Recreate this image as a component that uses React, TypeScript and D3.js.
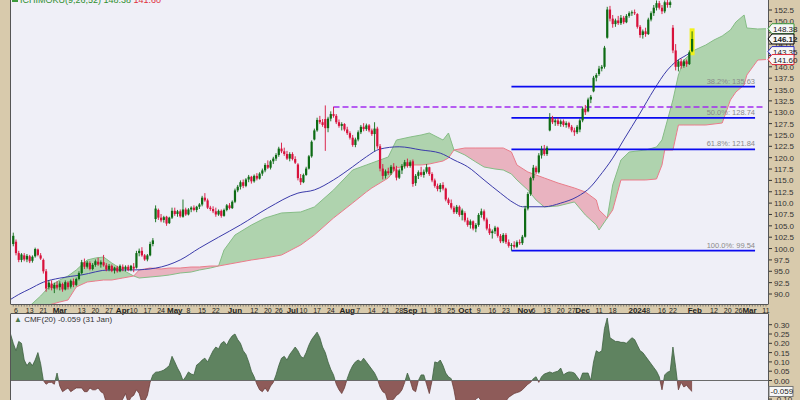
import React from "react";
import * as d3 from "d3";

// ---------- calendar ----------
const holidays = ["2023-02-20","2023-04-07","2023-05-29","2023-06-19","2023-07-04","2023-09-04","2023-11-23","2023-12-25","2024-01-01","2024-01-15","2024-02-19"];
const calendarStart = "2023-02-03";
const calendarEnd = "2024-03-11";

// ---------- candles [open, high, low, close] ----------
const feb23 = [[101,103.5,100.5,102.8],[101.5,102,98.5,99],[99,99.5,97,97.5],[97.5,99,97,98.7],[98.5,99,97.2,97.6],[97.6,98.8,97,98.4],[98.3,98.6,96.8,97.2],[97.3,98.5,96.9,98.2],[98.3,100.2,98,99.9],[99.8,100,98.3,98.6],[98.5,99,97.5,97.8],[97.5,97.8,94.5,95],[95,95.5,90.5,91.2],[91.5,93,91,92.5],[92.3,93,90.8,91.3],[91.2,92.5,90.2,92],[92,92.8,91,91.4]];
const mar23 = [[91.5,92.8,90.8,92.3],[92.2,92.5,90.5,91],[91,93,90.8,92.6],[92.5,92.8,91,91.5],[91.6,93.2,91.2,92.9],[92.8,93.4,91.5,92],[92,93.6,91.7,93.3],[93.3,95,93,94.6],[94.6,97.5,94.3,97],[97,97.8,95.5,96],[96,97.3,95.6,96.9],[96.8,97.2,95.2,95.5],[95.5,96.8,95.2,96.4],[96.4,97.6,96,97.2],[97.1,98,96.2,96.5],[96.5,97.4,95.8,97],[97,98.6,96,96.3],[96.3,96.8,95,95.4],[95.4,96.6,95,96.2],[96.2,96.5,94.8,95.1],[95.2,96,94.5,95.8],[95.8,96.2,94.7,95],[95,96.5,94.8,96.2]];
const apr23 = [[96,96.5,95,95.4],[95.5,96.3,95,96],[96,96.4,95,95.3],[95.3,96.4,95,96.2],[96,96.8,94.8,95.6],[95.8,99.5,95.6,99],[99,100,98.3,99.5],[99.5,100.3,98.2,98.5],[98.5,98.8,97.3,97.6],[97.6,98.8,97.2,98.5],[98.5,101.5,98.3,101],[101,102.3,100.5,101.8],[106.5,109.5,105.8,108.8],[108.5,108.8,106.3,106.8],[106.8,107.6,105.8,106.2],[106.3,107.2,105.7,106.9],[107,107.2,105,105.5],[105.6,107,105.4,106.8],[106.8,109,106.5,108.3]];
const may23 = [[108.3,109,107.2,107.6],[107.6,108.5,107,108.2],[108.2,108.6,106.8,107.1],[107,110.8,106.8,108.6],[108.6,109,107.2,107.5],[107.5,108.9,107.3,108.6],[108.6,109.3,108,109],[109,109.5,108.2,108.5],[108.5,109.4,108,109.2],[109.2,110,108.7,109.7],[109.7,111.6,109.3,111.2],[111.2,112.2,110.3,110.6],[110.6,111,108.7,109],[109,109.4,108.3,108.7],[108.7,109.3,107.8,108.2],[108.2,109,107,107.5],[107.5,108.6,107.2,108.3],[108.3,108.6,106.8,107.2],[107.2,108.8,107,108.5],[108.5,109.8,108.2,109.5],[109.5,110,108.6,108.9],[108.9,110.6,108.7,110.3]];
const jun23 = [[110.3,113.2,110,112.8],[112.8,114,112.4,113.6],[113.6,115,113,114.6],[114.6,115.2,113.3,113.8],[113.8,115.5,113.5,115.2],[115.2,116.2,114.6,115.8],[115.8,116,114.3,114.8],[114.8,116.3,114.5,116],[116,116.6,115,115.4],[115.4,116.8,115.2,116.5],[116.5,117.6,116,117.2],[117.2,118.8,116.8,118.4],[118.4,119.4,117.5,117.8],[117.8,119.5,117.4,119.2],[119.2,120.2,118.6,119.8],[119.8,121,119.3,120.6],[120.6,122.4,120.2,122],[122,123.3,121,121.4],[121.4,122.2,120.4,120.8],[120.8,121.5,119.5,119.8],[119.8,121.2,119.2,120.8]];
const jul23 = [[120.8,121.2,119.4,119.7],[119.7,120.3,118.6,118.9],[118.5,118.8,115,115.5],[115.5,116.4,114,114.6],[114.6,116.5,114.4,116.2],[116.2,118,116,117.6],[117.6,120.6,117.4,120.3],[120.3,123.8,120,123.5],[124,126.4,123.8,126],[126,128.8,125.7,128.3],[128.3,129.2,127.4,127.8],[127.8,128.5,126.8,127.2],[128.5,131.5,121.5,126.5],[126.5,129,125.6,128.6],[128.6,130.2,128,129.6],[129.6,131.2,128.8,129.2],[129.2,129.6,127.4,127.8],[127.8,128.4,126.6,127],[127,127.8,126,127.4],[127.4,127.6,125.8,126.2]];
const aug23 = [[126.2,126.8,125,125.4],[125.4,125.8,124,124.4],[124.4,125,122.4,122.8],[122.8,124.4,122.3,124],[124,126,123.6,125.6],[125.6,127.2,125.2,126.8],[126.8,127.6,125.8,126.3],[126.3,127.5,125.9,127.1],[127.1,127.4,125.6,126],[126,126.4,124.8,125.2],[125.2,127.8,121.5,126.4],[126.4,126.8,122,122.5],[122.5,123,117,117.6],[117.6,118.6,115.2,116],[116,117.4,115.4,117],[117,117.8,116.2,116.6],[116.6,118.4,116.2,118],[118,118.8,117,117.4],[117.4,118.2,115,115.6],[115.6,117.6,115.3,117.2],[117.2,118.6,116.4,118.2],[118.2,119.5,117.6,119],[119,119.8,117.8,118.2]];
const sep23 = [[118.2,119.4,117.8,119],[119.2,119.6,113.6,114.2],[114.4,116.4,113.8,116],[116,117.2,115.3,116.8],[116.8,118,115.8,116.2],[116.2,117.4,115.6,116.9],[116.9,118.6,116.5,117.9],[117.9,118,116,116.4],[116.4,116.8,114.6,115],[115,115.4,113.4,113.8],[113.8,114.3,112.6,113.1],[113.1,114.4,112.4,114],[114,114.6,112.8,113.2],[113.2,113.4,110.4,110.8],[110.8,111.2,109.6,110],[110,110.8,108.6,109],[109,109.4,107.6,108],[108,109.6,107.6,109.2],[109.2,109.5,107,107.4],[107.4,108.8,106.2,108.4]];
const oct23 = [[107.8,108.2,105.8,106.2],[106.2,106.8,104.8,105.2],[105.2,106.4,104.4,106],[106,106.2,104,104.4],[104.4,105.6,103.6,105.2],[105.2,107.8,104.8,107.4],[107.4,108.8,106.8,108.2],[108.2,108.6,106,106.4],[106.4,106.8,104,104.4],[104.4,105.4,103,103.4],[103.4,104.2,102.2,103.8],[103.8,105,103.2,104.6],[104.6,104.8,102.4,102.8],[102.8,103.2,101.2,101.6],[101.6,103.4,101.2,103],[103,103.4,101,101.4],[101.4,102,100.2,100.6],[100.6,101.2,99.54,100.8],[100.8,101.6,100,100.4],[100.4,101.8,100.1,101.4],[101.4,102,100.8,101.2],[101.2,103,100.8,102.6]];
const nov23 = [[102.6,109.4,102.4,108.8],[108.8,112.4,108.4,112],[112,115.8,111.6,115.5],[115.5,118.4,115,117.8],[117.8,118.2,116.4,116.8],[116.8,121,116.5,120.5],[120.5,122.6,119.8,121.8],[121.8,122.8,120.4,120.8],[120.8,122.6,120.4,122.2],[126,129.8,125.8,128.8],[128.8,129.2,127.4,127.8],[127.8,128.6,127,128.2],[128.2,128.8,127,127.4],[127.4,128.4,126.8,128],[128,128.4,126.8,127.2],[127.2,128,126.6,127.6],[127.6,127.9,126.4,126.8],[126.8,127.2,125.6,126],[126,126.6,124.8,125.6],[125.6,127.2,125.2,126.8],[126.2,128.6,125.6,128.2]];
const dec23 = [[128.2,131.2,127.8,130.8],[130.8,131.6,129.4,130],[130.2,133.2,130,132.8],[132.8,133.8,132,133.4],[134.6,138,134.4,137.6],[137.6,138.6,136.8,138.2],[138.4,140.2,138,139.6],[139.6,140.4,139,140],[140,144.6,139.6,144.2],[146.4,153.2,146.2,152.6],[152.6,153.4,150,150.6],[150.6,151.4,148.6,149.4],[149.4,150.6,148.8,150.2],[150.2,151.2,149.2,149.6],[149.6,151.4,149.2,150.8],[150.8,151.2,149.4,149.8],[149.8,151.6,149.6,151.2],[151.2,152.2,150.8,151.8],[151.8,152.4,151.2,152],[152,152.6,151.4,151.8]];
const jan24 = [[151.6,151.8,148.4,148.8],[148.8,149.2,146.4,147],[147,148.2,146.2,147.8],[147.8,148.6,146.6,147.2],[147.2,150.8,147,150.4],[150.4,152.2,150,151.8],[151.8,153.6,151.2,153],[153,154.6,152.4,154],[154,154.5,152.6,153],[153,153.6,151.6,152.2],[152.2,154.6,151.8,154.2],[154.2,154.8,153,153.6],[153.6,154.6,153,154.2],[148.6,149.2,143,143.6],[143.6,145,139.2,140],[140,141.6,139,141.2],[141.2,141.8,139.6,140.2],[140.2,141.6,139.8,141.2],[141.2,141.6,140,140.6],[140.6,143.6,140.4,143.2],[143.4,147.8,143.2,146.12]];

// ---------- Ichimoku cloud (trading-day index, span A, span B) ----------
const cloudDays = [6,10,13,17,20,23,27,30,33,36,40,44,46,50,54,57,61,65,68,72,75,77,81,87,92,98,105,110,117,124,129,131,137,140,145,149,152,157,159,161,165,169,172,176,179,182,184,188,191,194,199,205,209,213,214,217,219,222,225,231,235,237,238,241,243,245,249,253,256,259,262,264,267,268,272,275];
const spanA = [87.36,89.56,91.54,93.08,93.96,95.28,97.48,97.92,98.14,96.82,95.28,93.96,93.52,93.74,93.96,94.18,94.62,94.84,95.28,95.72,96.16,99.68,102.98,105.18,106.72,107.83,108.05,109.15,112.89,117.29,118.39,118.83,120.15,123.89,124.55,124.99,125.43,123.89,125.43,121.69,120.59,119.05,117.95,117.51,117.29,116.41,115.09,112.89,110.69,109.15,109.37,110.26,107.39,105.18,104.08,106.72,114.0,119.49,121.25,121.69,122.35,123.89,126.09,132.69,138.19,141.49,143.7,144.8,145.9,146.78,148.1,149.86,151.4,148.54,148.32,148.38];
const spanB = [86.48,86.92,87.58,88.24,88.68,91.54,92.64,92.86,93.08,93.08,93.52,93.96,95.28,95.72,95.5,95.72,95.72,95.94,95.94,96.16,96.16,96.38,96.82,97.48,97.92,98.58,100.78,102.98,106.72,110.03,112.45,113.33,115.53,117.73,118.39,118.39,118.61,119.27,119.93,121.69,122.13,122.13,122.13,122.13,122.13,121.25,118.39,116.85,116.19,115.53,114.43,113.33,112.45,110.69,108.49,106.72,108.49,115.09,115.09,115.09,115.31,118.39,121.69,121.69,127.19,127.19,127.19,127.19,127.41,127.63,132.69,134.45,135.99,138.19,141.49,141.6];

// ---------- moving average ----------
const maDays = [-1,2,6,11,17,25,35,44,52,61,68,75,83,93,104,110,117,124,129,134,141,149,156,161,166,172,178,183,186,194,200,206,211,214,219,223,229,234,239,242,246,248];
const maValues = [88.8,89.9,91.1,92.6,93.5,94.2,95.3,95.3,95.7,97.5,100.1,102.5,105.2,108.9,112.2,112.9,115.1,118.0,120.2,121.9,122.4,121.7,121.0,119.5,118.0,115.1,112.2,110.0,109.2,109.2,110.0,111.4,113.6,115.8,119.9,123.9,129.8,134.9,139.3,141.1,142.6,143.35];

// ---------- CMF(20), one value per trading day from index -1 ----------
const cmfFirstDay = -1;
const cmfValues = [0.25,0.20,0.16,0.21,0.20,0.11,0.08,0.10,0.08,0.11,0.15,0.09,0.00,-0.02,-0.01,-0.01,-0.02,0.04,-0.03,-0.06,-0.05,-0.04,-0.06,-0.05,-0.04,-0.04,-0.04,-0.06,-0.06,-0.04,-0.05,-0.05,-0.04,-0.06,-0.07,-0.12,-0.13,-0.13,-0.13,-0.12,-0.12,-0.10,-0.07,-0.12,-0.09,-0.08,-0.05,-0.07,-0.12,-0.11,-0.08,-0.01,0.03,0.045,0.046,0.05,0.056,0.067,0.08,0.13,0.10,0.067,0.04,0.0,0.02,0.046,0.035,0.03,0.083,0.094,
0.11,0.12,0.10,0.13,0.16,0.18,0.17,0.20,0.21,0.19,0.22,0.24,0.25,0.22,0.20,0.16,0.14,0.10,0.05,0.02,-0.02,-0.05,-0.06,-0.04,-0.06,-0.03,-0.01,0.03,0.08,0.12,0.13,0.11,0.14,0.16,0.18,0.16,0.13,0.12,0.15,0.19,0.22,0.24,0.26,0.23,0.18,0.15,0.10,0.06,0.03,-0.02,-0.05,-0.07,-0.04,0.01,0.05,0.08,0.10,0.11,0.10,0.12,0.10,0.08,0.06,0.04,0.01,
-0.035,-0.06,-0.07,-0.12,-0.11,-0.10,-0.08,-0.07,-0.05,-0.01,0.04,0.0,-0.05,-0.06,0.0,0.03,0.03,-0.02,-0.07,0.0,0.10,0.095,0.11,0.08,0.04,0.02,0.01,-0.05,-0.13,-0.14,-0.15,-0.14,-0.13,-0.14,-0.12,-0.10,-0.09,-0.11,-0.13,-0.14,-0.15,-0.14,-0.13,-0.12,-0.13,-0.12,-0.11,-0.09,-0.08,-0.07,-0.065,-0.06,-0.05,-0.035,-0.02,-0.01,0.01,0.02,-0.01,0.02,0.035,0.04,0.046,0.04,0.046,0.05,0.067,0.03,0.04,0.046,0.045,0.04,0.02,0.0,0.04,0.04,0.04,0.0,0.10,0.16,0.15,0.16,0.28,0.336,0.23,0.22,0.21,0.21,0.205,0.205,0.20,0.215,0.23,0.22,0.19,0.16,0.15,0.13,0.11,0.09,0.07,0.05,0.02,-0.05,0.03,0.045,0.05,0.18,0.07,-0.05,-0.01,-0.035,-0.025,-0.045,-0.059];

// ---------- overlays ----------
const fibPercents = ["38.2%", "50.0%", "61.8%", "100.0%"];
const fibValues = [135.63, 128.74, 121.84, 99.54];
const fibStart = "2023-10-25";
const fibEnd = "2024-03-05";
const resistanceValue = 131.15;
const resistanceStart = "2023-07-25";
const resistanceEnd = "2024-03-08";

// ---------- axes ----------
const priceTicks = [90, 92.5, 95, 97.5, 100, 102.5, 105, 107.5, 110, 112.5, 115, 117.5, 120, 122.5, 125, 127.5, 130, 132.5, 135, 137.5, 140, 142.5, 145, 147.5, 150, 152.5];
const cmfTicks = [0.3, 0.25, 0.2, 0.15, 0.1, 0.05, 0, -0.1];
const dateLabels: [string, string, boolean][] = [
  ["2023-02-06","6",false],["2023-02-13","13",false],["2023-02-21","21",false],["2023-03-01","Mar",true],["2023-03-13","13",false],["2023-03-20","20",false],["2023-03-27","27",false],
  ["2023-04-03","Apr",true],["2023-04-10","10",false],["2023-04-17","17",false],["2023-04-24","24",false],["2023-05-01","May",true],["2023-05-08","8",false],["2023-05-15","15",false],["2023-05-22","22",false],
  ["2023-06-01","Jun",true],["2023-06-12","12",false],["2023-06-20","20",false],["2023-06-26","26",false],["2023-07-03","Jul",true],["2023-07-10","10",false],["2023-07-17","17",false],["2023-07-24","24",false],
  ["2023-08-01","Aug",true],["2023-08-07","7",false],["2023-08-14","14",false],["2023-08-21","21",false],["2023-08-28","28",false],["2023-09-01","Sep",true],["2023-09-11","11",false],["2023-09-18","18",false],["2023-09-25","25",false],
  ["2023-10-02","Oct",true],["2023-10-09","9",false],["2023-10-16","16",false],["2023-10-23","23",false],["2023-11-01","Nov",true],["2023-11-06","6",false],["2023-11-13","13",false],["2023-11-20","20",false],["2023-11-27","27",false],
  ["2023-12-01","Dec",true],["2023-12-11","11",false],["2023-12-18","18",false],["2024-01-02","2024",true],["2024-01-08","8",false],["2024-01-16","16",false],["2024-01-22","22",false],
  ["2024-02-01","Feb",true],["2024-02-12","12",false],["2024-02-20","20",false],["2024-02-26","26",false],["2024-03-01","Mar",true],["2024-03-11","11",false]];
const tagValues = [148.38, 146.12, 143.35, 141.6];
const tagColors = ["#3c9a3c", "#000000", "#3030c0", "#e03040"];

// ---------- component ----------
const W = 800, H = 400;
const PL = 11, PR = 768, PT = 0, PB = 304;
const CT = 314, CB = 400;
const FONT = "'Liberation Sans', Arial, sans-serif";

export default function App() {
  const parse = d3.timeParse("%Y-%m-%d");
  const fmt = d3.timeFormat("%Y-%m-%d");
  const days = d3.timeDay
    .range(parse(calendarStart)!, d3.timeDay.offset(parse(calendarEnd)!, 1))
    .filter((d) => d.getDay() !== 0 && d.getDay() !== 6 && !holidays.includes(fmt(d)));
  const dayIndex = new Map(days.map((d, i) => [fmt(d), i]));
  const di = (s: string) => dayIndex.get(s) ?? 0;

  const x = d3.scaleLinear().domain([1, days.length - 1]).range([16, 766]);
  const y = d3.scaleLinear().domain([90, 152.5]).range([294, 10]);
  const yc = d3.scaleLinear().domain([0, 0.3]).range([380.5, 324.7]);

  const candles = [...feb23, ...mar23, ...apr23, ...may23, ...jun23, ...jul23, ...aug23, ...sep23, ...oct23, ...nov23, ...dec23, ...jan24];

  const cloud = cloudDays.map((d, i) => ({ d, a: spanA[i], b: spanB[i] }));
  const between = d3.area<any>().x((p) => x(p.d)).y0((p) => y(p.b)).y1((p) => y(p.a));
  const aboveB = d3.area<any>().x((p) => x(p.d)).y0(-50).y1((p) => y(p.b));
  const belowB = d3.area<any>().x((p) => x(p.d)).y0(H + 50).y1((p) => y(p.b));
  const lineA = d3.line<any>().x((p) => x(p.d)).y((p) => y(p.a));
  const lineB = d3.line<any>().x((p) => x(p.d)).y((p) => y(p.b));

  const ma = maDays.map((d, i) => [x(d), y(maValues[i])] as [number, number]);
  const maPath = d3.line().curve(d3.curveMonotoneX)(ma);

  const cmf = cmfValues.map((v, i) => ({ d: cmfFirstDay + i, v }));
  const cmfArea = d3.area<any>().x((p) => x(p.d)).y0(yc(0)).y1((p) => yc(p.v));
  const cmfLine = d3.line<any>().x((p) => x(p.d)).y((p) => yc(p.v));

  const last = candles.length - 1;
  const tan = "#d8caac";
  const panel = "#efeff7";

  return (
    <svg width={W} height={H} style={{ position: "absolute", left: 0, top: 0, display: "block" }} fontFamily={FONT}>
      <defs>
        <clipPath id="mainClip"><rect x={PL} y={PT} width={PR - PL} height={PB - PT} /></clipPath>
        <clipPath id="cmfClip"><rect x={PL} y={CT} width={PR - PL} height={CB - CT} /></clipPath>
        <clipPath id="aboveB"><path d={aboveB(cloud)!} /></clipPath>
        <clipPath id="belowB"><path d={belowB(cloud)!} /></clipPath>
        <clipPath id="cmfPos"><rect x={PL} y={CT} width={PR - PL} height={yc(0) - CT} /></clipPath>
        <clipPath id="cmfNeg"><rect x={PL} y={yc(0)} width={PR - PL} height={CB - yc(0)} /></clipPath>
      </defs>

      <rect x={0} y={0} width={W} height={H} fill={tan} />
      <rect x={PL} y={PT} width={PR - PL} height={PB - PT} fill={panel} />
      <rect x={PL} y={CT} width={PR - PL} height={CB - CT} fill={panel} />

      {/* main panel */}
      <g clipPath="url(#mainClip)">
        <g clipPath="url(#aboveB)"><path d={between(cloud)!} fill="#afd3ae" /></g>
        <g clipPath="url(#belowB)"><path d={between(cloud)!} fill="#e9b3c0" /></g>
        <path d={lineA(cloud)!} fill="none" stroke="#86bd86" strokeWidth={1} />
        <path d={lineB(cloud)!} fill="none" stroke="#ea7c8a" strokeWidth={1} />
        <path d={maPath!} fill="none" stroke="#3b3baa" strokeWidth={1} />

        {fibValues.map((v, i) => (
          <g key={"fib" + i}>
            <line x1={x(di(fibStart))} x2={x(di(fibEnd))} y1={y(v)} y2={y(v)} stroke="#0a0af0" strokeWidth={1.8} />
            <text x={x(di(fibEnd))} y={y(v) - 3} textAnchor="end" fontSize={7.5} fill="#8a8a8a">{fibPercents[i] + ": " + v.toFixed(2)}</text>
          </g>
        ))}
        <line x1={x(di(resistanceStart))} x2={x(di(resistanceEnd))} y1={y(resistanceValue)} y2={y(resistanceValue)} stroke="#a22cf0" strokeWidth={1.5} strokeDasharray="6,3" />

        <rect x={x(last) - 2.5} y={y(candles[last][1]) - 3} width={5} height={y(candles[last][2]) - y(candles[last][1]) + 6} fill="#f2f21a" />
        {candles.map((c, i) => {
          const [o, h, l, cl] = c;
          const up = cl >= o;
          const col = up ? "#0d6b14" : "#d8123c";
          const cx = x(i);
          const top = y(Math.max(o, cl));
          const bh = Math.max(1, y(Math.min(o, cl)) - top);
          return (
            <g key={"c" + i}>
              <line x1={cx} x2={cx} y1={y(h)} y2={y(l)} stroke={col} strokeWidth={0.9} />
              <rect x={cx - 1.1} y={top} width={2.2} height={bh} fill={col} />
            </g>
          );
        })}
        <rect x={PL + 1} y={-6} width={6} height={8} fill="#3c9a3c" />
        <text x={PL + 9} y={3} fontSize={9} fill="#2f8f2f">ICHIMOKU(9,26,52) 148.38 <tspan fill="#e03040">141.60</tspan></text>
      </g>
      <line x1={PL - 0.5} x2={PL - 0.5} y1={0} y2={PB} stroke="#555" />
      <line x1={PR + 0.5} x2={PR + 0.5} y1={0} y2={PB} stroke="#555" />
      <line x1={PL - 0.5} x2={PR + 0.5} y1={PB + 0.5} y2={PB + 0.5} stroke="#555" />

      {/* price axis */}
      {priceTicks.map((t) => (
        <g key={"pt" + t}>
          <line x1={PR + 1} x2={PR + 4} y1={y(t)} y2={y(t)} stroke="#333" />
          <text x={PR + 6} y={y(t) + 3} fontSize={8} fill="#333">{t.toFixed(1)}</text>
        </g>
      ))}
      {tagValues.map((v, i) => {
        const ty = y(v);
        return (
          <g key={"tag" + i}>
            <path d={`M${PR},${ty} L${PR + 4},${ty - 5} L${PR + 26},${ty - 5} L${PR + 26},${ty + 5} L${PR + 4},${ty + 5} Z`} fill="#f7f7f7" stroke={tagColors[i]} strokeWidth={1} />
            <text x={PR + 5} y={ty + 3} fontSize={8} fontWeight={i === 1 ? "bold" : "normal"} fill="#222">{v.toFixed(2)}</text>
          </g>
        );
      })}

      {/* date axis */}
      {days.map((d, i) => (
        <line key={"dt" + i} x1={x(i)} x2={x(i)} y1={PB + 1} y2={PB + 2.5} stroke="#666" strokeWidth={0.8} />
      ))}
      {dateLabels.map(([ds, lab, bold]) => (
        <text key={"dl" + ds} x={x(di(ds))} y={PB + 8.5} textAnchor="middle" fontSize={bold ? 8 : 7} fontWeight={bold ? "bold" : "normal"} fill="#222">{lab}</text>
      ))}

      {/* CMF panel */}
      <g clipPath="url(#cmfClip)">
        <g clipPath="url(#cmfPos)"><path d={cmfArea(cmf)!} fill="#5f8360" /></g>
        <g clipPath="url(#cmfNeg)"><path d={cmfArea(cmf)!} fill="#8e5b59" /></g>
        <g clipPath="url(#cmfPos)"><path d={cmfLine(cmf)!} fill="none" stroke="#3f6241" strokeWidth={0.8} /></g>
        <g clipPath="url(#cmfNeg)"><path d={cmfLine(cmf)!} fill="none" stroke="#6c3d3b" strokeWidth={0.8} /></g>
        <line x1={PL} x2={PR} y1={yc(0)} y2={yc(0)} stroke="#6a6a6a" strokeWidth={1} />
        <text x={PL + 3} y={CT + 8} fontSize={8} fill="#333"><tspan fill="#4d7a4d">▲</tspan> CMF(20) -0.059 (31 Jan)</text>
      </g>
      <line x1={PL - 0.5} x2={PR + 0.5} y1={CT - 0.5} y2={CT - 0.5} stroke="#555" />
      <line x1={PL - 0.5} x2={PL - 0.5} y1={CT} y2={CB} stroke="#555" />
      <line x1={PR + 0.5} x2={PR + 0.5} y1={CT} y2={CB} stroke="#555" />
      {cmfTicks.map((t) => (
        <g key={"ct" + t}>
          <line x1={PR + 1} x2={PR + 4} y1={yc(t)} y2={yc(t)} stroke="#333" />
          <text x={PR + 6} y={yc(t) + 3} fontSize={8} fill="#333">{t.toFixed(2)}</text>
        </g>
      ))}
      <rect x={PR + 1} y={yc(-0.059) - 5} width={24} height={10} fill="#f7f7f7" stroke="#777" />
      <text x={PR + 2.5} y={yc(-0.059) + 3} fontSize={8} fill="#222">-0.059</text>
    </svg>
  );
}
